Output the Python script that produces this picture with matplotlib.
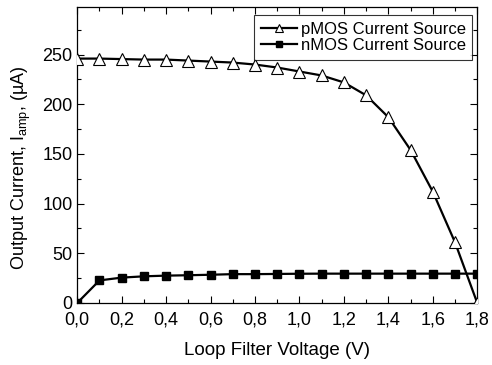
import numpy as np
import matplotlib.pyplot as plt
from matplotlib.ticker import MultipleLocator, FuncFormatter

plt.rcParams['font.family'] = ['Liberation Sans', 'DejaVu Sans']
plt.rcParams['mathtext.fontset'] = 'custom'
plt.rcParams['mathtext.rm'] = 'Liberation Sans'
plt.rcParams['mathtext.it'] = 'Liberation Sans'

voltage = [0.0, 0.1, 0.2, 0.3, 0.4, 0.5, 0.6, 0.7, 0.8, 0.9,
           1.0, 1.1, 1.2, 1.3, 1.4, 1.5, 1.6, 1.7, 1.8]
pmos = [246, 246, 245.5, 245, 245, 244, 243, 242, 240, 237,
        233, 229, 222, 209, 187, 154, 112, 61, 0]
nmos = [0, 22.7, 25.5, 26.8, 27.5, 27.9, 28.4, 29, 29, 29.2,
        29.4, 29.5, 29.5, 29.5, 29.5, 29.5, 29.5, 29.5, 29.5]

fig = plt.figure(figsize=(4.92, 3.65), dpi=100)
ax = fig.add_axes([0.157, 0.170, 0.813, 0.811])

ax.plot(voltage, pmos, color="black", lw=1.6, marker="^", ms=8.5,
        mfc="white", mec="black", mew=0.8, label="pMOS Current Source",
        zorder=3)
ax.plot(voltage, nmos, color="black", lw=1.6, marker="s", ms=6,
        mfc="black", mec="black", label="nMOS Current Source",
        zorder=3)

ax.set_xlim(0, 1.8)
ax.set_ylim(0, 298)
ax.xaxis.set_major_locator(MultipleLocator(0.2))
ax.xaxis.set_minor_locator(MultipleLocator(0.1))
ax.yaxis.set_major_locator(MultipleLocator(50))
ax.yaxis.set_minor_locator(MultipleLocator(25))
ax.xaxis.set_major_formatter(FuncFormatter(lambda v, p: f"{v:.1f}".replace(".", ",")))

ax.tick_params(which="both", direction="in", top=True, right=True,
               labelsize=13, width=0.8)
ax.tick_params(which="major", length=5)
ax.tick_params(which="minor", length=3)
ax.tick_params(axis="x", pad=6)
for s in ax.spines.values():
    s.set_linewidth(0.9)

ax.set_xlabel("Loop Filter Voltage (V)", fontsize=13.5, labelpad=10)
ax.set_ylabel(r"Output Current, I$_{\mathrm{amp}}$, (µA)", fontsize=13)
ax.yaxis.set_label_coords(-0.11, 0.458)

leg = ax.legend(loc="upper right", fontsize=12, frameon=True, fancybox=False,
                edgecolor="black", borderpad=0.4, labelspacing=0.1,
                handlelength=2.2, handletextpad=0.2, borderaxespad=0,
                markerscale=0.65, bbox_to_anchor=(0.9875, 0.973))
leg.get_frame().set_linewidth(0.8)

fig.savefig("out.png", dpi=100)
